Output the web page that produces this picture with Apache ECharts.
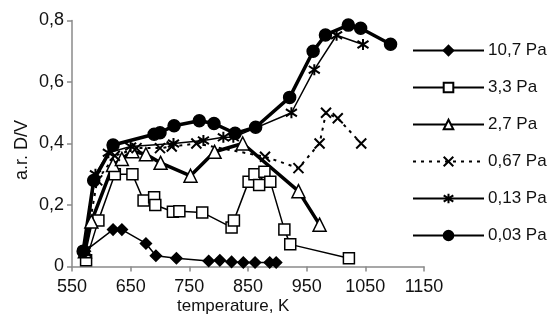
<!DOCTYPE html>
<html>
<head>
<meta charset="utf-8">
<script src="https://cdn.jsdelivr.net/npm/echarts@6/dist/echarts.min.js"></script>
<style>html,body{margin:0;padding:0;background:#fff}#c{width:549px;height:325px}</style>
</head>
<body>
<div id="c"></div>
<script>
// ---- data (temperature K, a.r. D/V) ----
var seriesNames = ['10,7 Pa', '3,3 Pa', '2,7 Pa', '0,67 Pa', '0,13 Pa', '0,03 Pa'];
var xTicks = [550, 650, 750, 850, 950, 1050, 1150];
var yTicks = [0, 0.2, 0.4, 0.6, 0.8];

var p107 = [[572,0.05],[620,0.12],[635,0.12],[676,0.075],[693,0.035],[728,0.027],[783,0.018],[802,0.02],[822,0.015],[842,0.013],[862,0.013],[887,0.013],[898,0.013]];
var p33 = [[574,0.02],[595,0.15],[623,0.30],[653,0.30],[672,0.215],[690,0.225],[692,0.20],[722,0.178],[733,0.18],[772,0.176],[822,0.127],[826,0.15],[851,0.276],[861,0.30],[869,0.265],[878,0.308],[888,0.276],[912,0.12],[922,0.072],[1022,0.027]];
var p27 = [[572,0.05],[583,0.146],[620,0.33],[635,0.35],[653,0.375],[676,0.365],[701,0.337],[752,0.295],[793,0.373],[841,0.40],[936,0.245],[972,0.136]];
var p067 = [[572,0.05],[593,0.28],[623,0.36],[660,0.385],[700,0.385],[720,0.39],[762,0.40],[879,0.357],[936,0.32],[972,0.40],[983,0.50],[1003,0.482],[1043,0.40]];
var p013 = [[572,0.05],[590,0.30],[612,0.37],[650,0.39],[723,0.40],[774,0.41],[808,0.42],[825,0.42],[924,0.50],[963,0.64],[1001,0.752],[1046,0.722]];
var p003 = [[569,0.05],[587,0.28],[620,0.395],[690,0.43],[700,0.435],[724,0.458],[767,0.474],[792,0.465],[828,0.433],[863,0.453],[921,0.55],[961,0.70],[982,0.753],[1021,0.785],[1042,0.775],[1093,0.723]];

var FONT = 'Liberation Sans, Arial, Helvetica, sans-serif';
var cross = 'path://M0,0L10,10M10,0L0,10';
var star = 'path://M0,1L10,9M10,1L0,9M5,-1L5,11';

function mk(name, data, symbol, size, lw, opts) {
  opts = opts || {};
  return {
    name: name, type: 'line', data: data,
    symbol: symbol, symbolSize: size,
    showAllSymbol: true,
    lineStyle: { color: '#000', width: lw, type: opts.dash ? [3, 5] : 'solid' },
    itemStyle: { color: opts.hollow ? '#fff' : '#000', borderColor: '#000', borderWidth: opts.bw || 1.5 },
    emphasis: { disabled: true },
    animation: false
  };
}

var chart = echarts.init(document.getElementById('c'), null, { renderer: 'canvas' });
chart.setOption({
  animation: false,
  backgroundColor: '#fff',
  textStyle: { fontFamily: FONT },
  grid: { left: 72, right: 125, top: 20.5, bottom: 58.5, containLabel: false },
  xAxis: {
    type: 'value', min: 550, max: 1150, interval: 100,
    axisLine: { show: true, lineStyle: { color: '#8a8a8a', width: 1.5 } },
    axisTick: { show: true, length: 5, lineStyle: { color: '#8a8a8a', width: 1.5 } },
    axisLabel: { color: '#111', fontSize: 18, fontFamily: FONT, margin: 12,
      formatter: function (v) { return String(v); } },
    splitLine: { show: false }
  },
  yAxis: {
    type: 'value', min: 0, max: 0.8, interval: 0.2,
    axisLine: { show: true, lineStyle: { color: '#8a8a8a', width: 1.5 } },
    axisTick: { show: true, length: 5, lineStyle: { color: '#8a8a8a', width: 1.5 } },
    axisLabel: { color: '#111', fontSize: 18, fontFamily: FONT, margin: 8,
      formatter: function (v) { return (Math.round(v * 10) / 10).toString().replace('.', ','); } },
    splitLine: { show: false }
  },
  legend: {
    orient: 'vertical', left: 407, top: 37,
    itemWidth: 71, itemHeight: 12, itemGap: 20,
    textStyle: { color: '#111', fontSize: 17, fontFamily: FONT, padding: [0, 0, 0, -1] },
    data: seriesNames
  },
  graphic: [{
    type: 'text', left: 177, top: 298,
    style: { text: 'temperature, K', fontSize: 17, fontFamily: FONT, fill: '#111' }
  }, {
    type: 'text', x: 22, y: 150, rotation: Math.PI / 2,
    style: { text: 'a.r. D/V', fontSize: 18, fontFamily: FONT, fill: '#111', align: 'center', verticalAlign: 'middle' }
  }],
  series: [
    mk(seriesNames[0], p107, 'diamond', 11, 1.5),
    mk(seriesNames[1], p33, 'rect', 11, 1.5, { hollow: true }),
    mk(seriesNames[2], p27, 'triangle', 13, 3.5, { hollow: true }),
    mk(seriesNames[3], p067, cross, 10, 2, { dash: true, bw: 2 }),
    mk(seriesNames[4], p013, star, 11, 1.5, { bw: 2 }),
    mk(seriesNames[5], p003, 'circle', 12, 3.5)
  ]
});
</script>
</body>
</html>
